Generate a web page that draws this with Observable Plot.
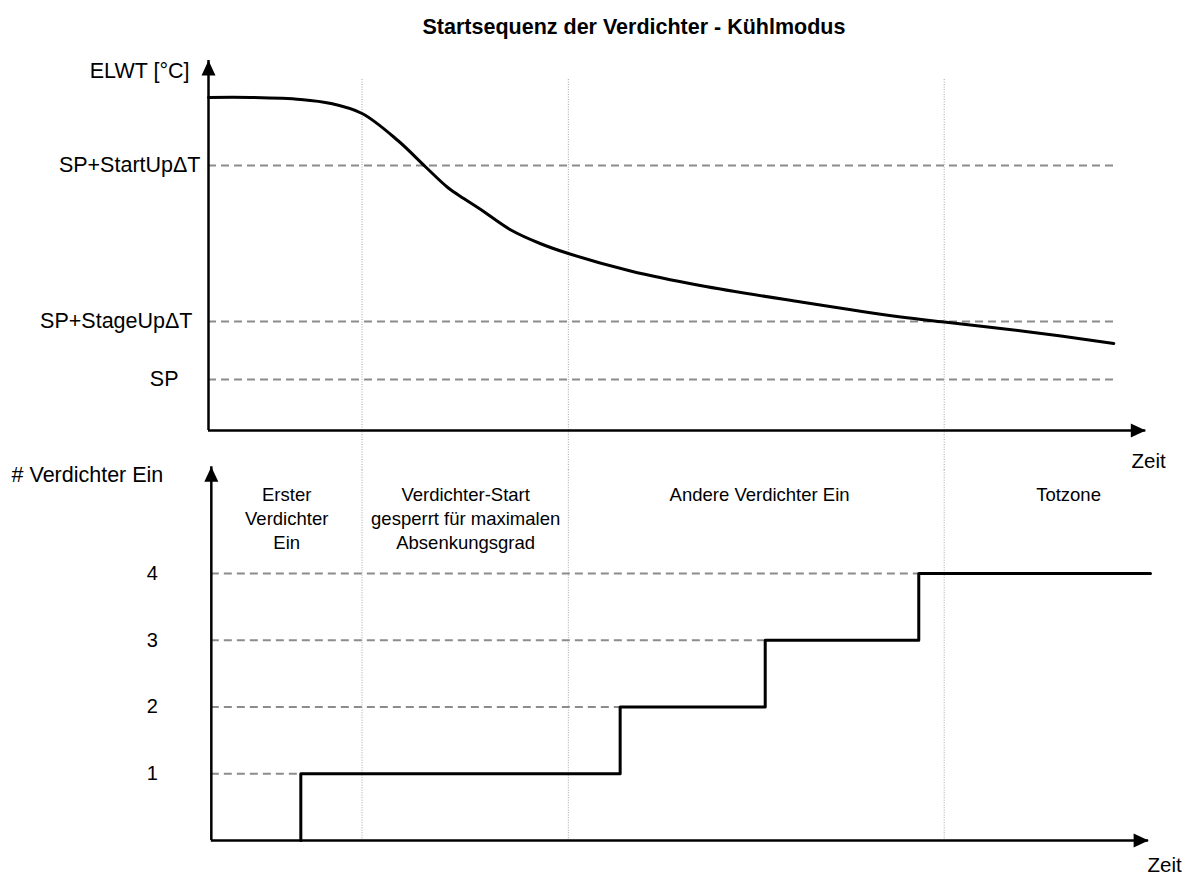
<!DOCTYPE html>
<html><head><meta charset="utf-8">
<script src="https://cdn.jsdelivr.net/npm/d3@7"></script>
<script src="https://cdn.jsdelivr.net/npm/@observablehq/plot@0.6"></script>
<style>
body{margin:0;background:#fff;font-family:"Liberation Sans",Arial,sans-serif;}
#title{position:relative;height:50px;}
#title span{position:absolute;left:0;width:1268px;text-align:center;top:15px;font-weight:bold;font-size:21.5px;color:#000;}
#chart svg{overflow:visible;display:block;}
</style></head><body>
<div id="title"><span>Startsequenz der Verdichter - Kühlmodus</span></div>
<div id="chart"></div>
<script>
// ---- data (time in arbitrary units, 0..100) ----
const phaseBounds = [16.3, 38.2, 78.1];

const elwtTime  = [0, 4.5, 9.8, 13.0, 16.3, 20.1, 23.0, 25.4, 27.1, 28.9, 32.1, 35.2, 38.2, 44.8, 52.2, 62.9, 73.5, 78.1, 84.1, 90.5, 96.1];
const elwtValue = [33.3, 33.3, 33.1, 32.7, 31.7, 29.0, 26.4, 24.3, 23.2, 22.1, 20.05, 18.7, 17.7, 15.95, 14.5, 12.85, 11.35, 10.85, 10.2, 9.45, 8.7];

const thresholdLabels = ["SP+StartUpΔT", "SP+StageUpΔT", "SP"];
const thresholdValues = [26.5, 10.9, 5.1];
const thresholdEnd = 96.1;

const stepTime  = [9.8, 9.8, 43.7, 59.1, 75.4, 100];
const stepCount = [0, 1, 2, 3, 4, 4];

const countTicks = [1, 2, 3, 4];
const countReached = [9.8, 43.7, 59.1, 75.4];

const phaseLabels = ["Erster\nVerdichter\nEin", "Verdichter-Start\ngesperrt für maximalen\nAbsenkungsgrad", "Andere Verdichter Ein", "Totzone"];
const phaseLabelTime = [8.3, 27.3, 58.5, 91.3];

const topAxisLabel = "ELWT [°C]";
const bottomAxisLabel = "# Verdichter Ein";
const timeLabel = "Zeit";

// ---- scales ----
const W = 1187;
const xDomain = [0, 100], xRange = [208, 1150];
const topYDomain = [0, 37], topYRange = [380, 10];
const botYDomain = [0, 5.65], botYRange = [370, -7];
const FONT = "Liberation Sans, Arial, sans-serif";
const GRAY = "#8c8c8c";
const AXIS_FS = 21.5;

const elwt = elwtTime.map((t, i) => ({t, v: elwtValue[i]}));
const thresholds = thresholdLabels.map((l, i) => ({label: l, v: thresholdValues[i]}));
const steps = stepTime.map((t, i) => ({t, n: stepCount[i]}));
const levels = countTicks.map((n, i) => ({n, end: countReached[i]}));
const phases = phaseLabels.map((l, i) => ({label: l, t: phaseLabelTime[i]}));

const topYMax = topYDomain[1];
const topXEnd = 99.5;

const topPlot = Plot.plot({
  width: W, height: 420,
  marginLeft: 0, marginRight: 0, marginTop: 0, marginBottom: 0,
  style: {fontFamily: FONT, overflow: "visible"},
  x: {domain: xDomain, range: xRange, axis: null},
  y: {domain: topYDomain, range: topYRange, axis: null},
  marks: [
    Plot.ruleX(phaseBounds, {x: d => d, y1: 35.1, y2: -4, stroke: "#a6a6a6", strokeWidth: 1, strokeDasharray: "1,1.5"}),
    Plot.ruleY(thresholds, {y: "v", x1: 0, x2: thresholdEnd, stroke: GRAY, strokeWidth: 2, strokeDasharray: "8,5"}),
    Plot.line(elwt, {x: "t", y: "v", curve: "catmull-rom", stroke: "black", strokeWidth: 3}),
    Plot.ruleX([0], {x: d => d, y1: 0, y2: topYMax, stroke: "black", strokeWidth: 2.5}),
    Plot.ruleY([0], {y: d => d, x1: 0, x2: topXEnd, stroke: "black", strokeWidth: 2.5}),
    Plot.vector([0], {x: 0, y: topYMax, rotate: 0, length: 15, r: 7, shape: "spike", anchor: "end", fill: "black", stroke: "none"}),
    Plot.vector([0], {x: topXEnd, y: 0, rotate: 90, length: 15, r: 7, shape: "spike", anchor: "end", fill: "black", stroke: "none"}),
    Plot.text([topAxisLabel], {x: 0, y: 35.9, text: d => d, textAnchor: "end", dx: -19, fontSize: AXIS_FS, fill: "black"}),
    Plot.text(thresholds.slice(0, 1), {x: 0, y: "v", text: "label", textAnchor: "end", dx: -8, fontSize: AXIS_FS, fill: "black"}),
    Plot.text(thresholds.slice(1, 2), {x: 0, y: "v", text: "label", textAnchor: "end", dx: -16, fontSize: AXIS_FS, fill: "black"}),
    Plot.text(thresholds.slice(2), {x: 0, y: "v", text: "label", textAnchor: "end", dx: -30, fontSize: AXIS_FS, fill: "black"}),
    Plot.text([timeLabel], {x: 99.8, y: -3.1, text: d => d, fontSize: 20.5, fill: "black"})
  ]
});

const botAxisX = 0.3;
const botXEnd = 99.8;
const botYTip = 5.6;

const bottomPlot = Plot.plot({
  width: W, height: 405,
  marginLeft: 0, marginRight: 0, marginTop: 0, marginBottom: 0,
  style: {fontFamily: FONT, overflow: "visible"},
  x: {domain: xDomain, range: xRange, axis: null},
  y: {domain: botYDomain, range: botYRange, axis: null},
  marks: [
    Plot.ruleX(phaseBounds, {x: d => d, y1: 5.55, y2: 0, stroke: "#a6a6a6", strokeWidth: 1, strokeDasharray: "1,1.5"}),
    Plot.ruleY(levels, {y: "n", x1: botAxisX, x2: "end", stroke: GRAY, strokeWidth: 2, strokeDasharray: "8,5"}),
    Plot.line(steps, {x: "t", y: "n", curve: "step-after", stroke: "black", strokeWidth: 3}),
    Plot.ruleX([botAxisX], {x: d => d, y1: 0, y2: botYTip, stroke: "black", strokeWidth: 2.5}),
    Plot.ruleY([0], {y: d => d, x1: botAxisX, x2: botXEnd, stroke: "black", strokeWidth: 2.5}),
    Plot.vector([0], {x: botAxisX, y: botYTip, rotate: 0, length: 15, r: 7, shape: "spike", anchor: "end", fill: "black", stroke: "none"}),
    Plot.vector([0], {x: botXEnd, y: 0, rotate: 90, length: 15, r: 7, shape: "spike", anchor: "end", fill: "black", stroke: "none"}),
    Plot.text(countTicks, {x: botAxisX, y: d => d, text: d => String(d), textAnchor: "middle", dx: -59, fontSize: 20, fill: "black"}),
    Plot.text([bottomAxisLabel], {x: botAxisX, y: 5.47, text: d => d, textAnchor: "end", dx: -48, fontSize: AXIS_FS, fill: "black"}),
    Plot.text(phases, {x: "t", y: 5.34, text: "label", lineAnchor: "top", lineHeight: 1.3, textAnchor: "middle", fontSize: 18.5, fill: "black"}),
    Plot.text([timeLabel], {x: 101.5, y: -0.37, text: d => d, fontSize: 20.5, fill: "black"})
  ]
});

const chart = document.getElementById("chart");
chart.appendChild(topPlot);
chart.appendChild(bottomPlot);
</script>
</body></html>
